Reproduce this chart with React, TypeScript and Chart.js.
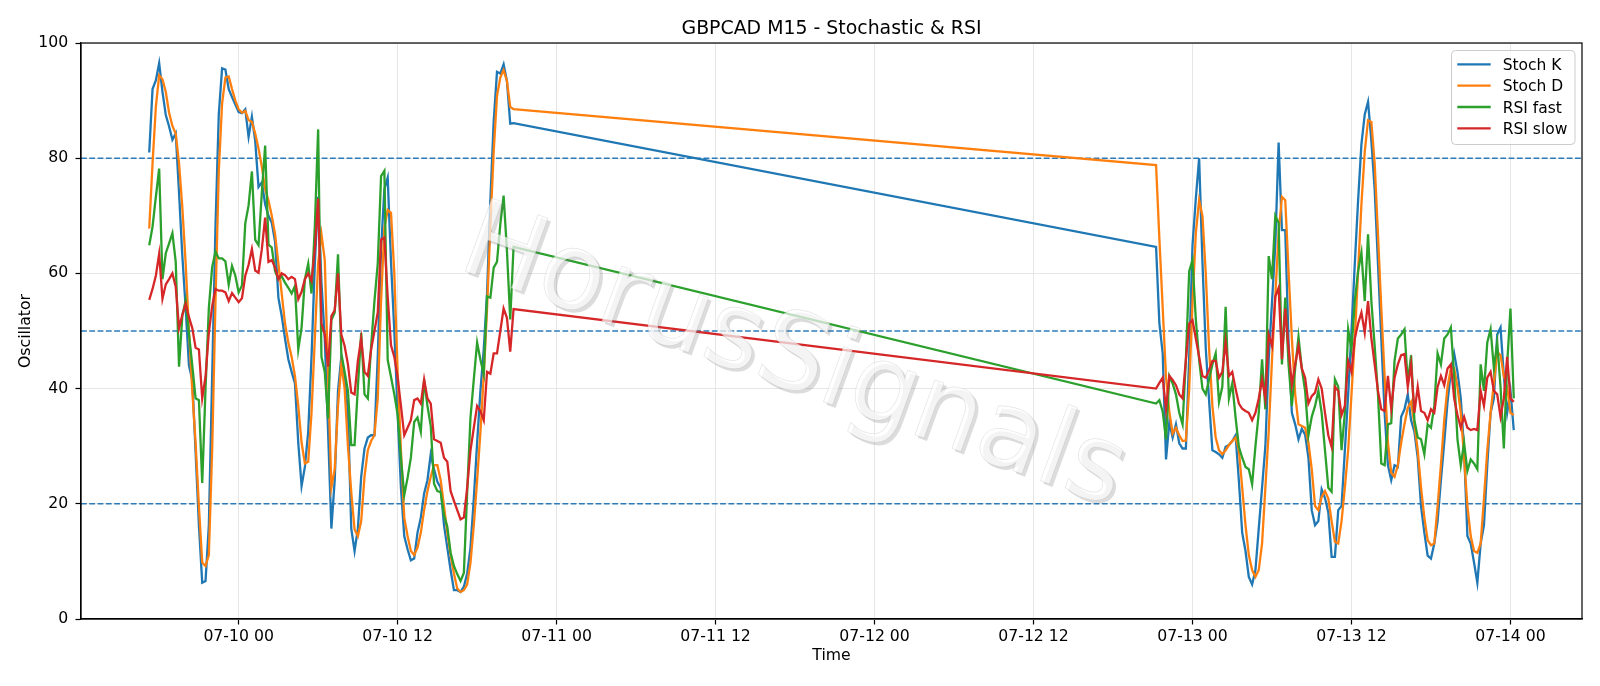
import React, { useEffect, useRef } from 'react';
import { Chart, registerables } from 'chart.js';

Chart.register(...registerables);

// ---- Data -----------------------------------------------------------------
const TITLE = 'GBPCAD M15 - Stochastic & RSI';
const X_LABEL = 'Time';
const Y_LABEL = 'Oscillator';
const WATERMARK = 'HorusSignals';

// Trading sessions (M15 bars): Thursday/Friday session and Sunday/Monday session
const SESSION_STARTS = ['2020-07-09T17:15:00Z', '2020-07-12T21:15:00Z'];
const SESSION_BARS = [111, 109];
const BAR_MINUTES = 15;

const SERIES_LABELS = ['Stoch K', 'Stoch D', 'RSI fast', 'RSI slow'];
const SERIES_COLORS = ['#1f77b4', '#ff7f0e', '#2ca02c', '#d62728'];

const stochK = [
  81, 92, 93.5, 96.5, 91.5, 87.5, 85.5, 83.2, 84.3, 74,
  63, 54, 44, 41.5, 29, 16.3, 6.3, 6.6, 16.3, 42,
  68, 87.6, 95.6, 95.4, 92, 90.6, 89.3, 88, 87.8, 88.5,
  83.7, 87.2, 83, 75, 75.8, 72, 70, 68.8, 65.5, 55.8,
  52.6, 48.7, 45.1, 42.9, 40.9, 30.6, 23.1, 26.4, 32.5, 45.5,
  61.7, 73.3, 58.4, 48.7, 32.5, 15.7, 24.1, 39.6, 45.5, 42.2,
  35.8, 15.7, 11.8, 15.7, 24.7, 29.6, 31.5, 31.9, 31.9, 45.5,
  64.2, 74.6, 76.6, 62, 50, 35.8, 22.8, 14.4, 12.1, 10.2,
  10.5, 15, 17.6, 21.8, 24.1, 28.6, 26, 23.8, 22.8, 16.3,
  12.4, 8.5, 5, 5, 4.7, 5.6, 7.9, 12.4, 20.9, 30.6,
  39.6, 46.8, 56.5, 72.7, 86.3, 95, 94.7, 96.3, 93.4, 86, 86.1,
  // session 2
  64.6, 51.3, 46.1, 27.7, 34.1, 31.5, 33.8, 30.5, 29.6, 29.6,
  45.5, 64.9, 73, 80, 62, 47, 38, 29.3, 29, 28.6,
  28, 29.9, 30.2, 30.9, 31.9, 24, 15, 11.8, 7.3, 6,
  8.5, 15.7, 22.8, 30, 45, 55, 65, 82.7, 67.5, 67.5,
  48, 35.8, 33.8, 31.2, 33, 32, 28, 18.9, 16.3, 17,
  22.5, 21, 18.5, 10.8, 10.8, 18.9, 19.6, 29.3, 39, 50,
  61.7, 72.7, 82.4, 87.6, 89.8, 83, 74.6, 61.7, 48.7, 35.8,
  26.7, 24.1, 26.7, 26.4, 35.1, 36.4, 39, 34.5, 32.5, 28,
  19.6, 15, 11, 10.5, 13.1, 17, 24.1, 30.6, 37.7, 42.9,
  46.1, 42.9, 38.3, 29.3, 14.4, 13.1, 9.8, 6.3, 13.1, 16.3,
  26.7, 35.8, 38.3, 49.4, 50.6, 42.2, 35.8, 39.6, 32.8,
];

const stochD = [
  67.8, 79.1, 88.9, 94.4, 93.7, 91.5, 87.9, 85.6, 84.3, 79.1,
  71.4, 61.7, 50, 39.6, 30.6, 19.6, 9.8, 9.2, 11.1, 29.3,
  55, 77.8, 89.5, 94, 94.2, 92, 90, 88.5, 87.9, 88.2,
  86.6, 86.3, 84.3, 81.7, 78.5, 74.6, 72.7, 70, 66.8, 61.7,
  56.5, 51.3, 48, 45.5, 42.2, 37, 30.6, 27, 27.3, 35.8,
  48.7, 61.7, 66.8, 62.3, 42.2, 22.8, 26, 37, 44.2, 40,
  30, 22, 15.5, 14.4, 17, 24.7, 29.3, 30.9, 31.9, 38.3,
  55.2, 68, 71, 70.5, 60, 43, 29.3, 17.6, 14.4, 11.8,
  11.1, 12.4, 15, 18.9, 22.2, 24.7, 26.7, 26.7, 24.1, 19.6,
  15, 11.1, 7.9, 5.3, 4.7, 5, 6, 9.8, 16.3, 24.1,
  32.5, 42.2, 53.9, 68.1, 81.1, 90.8, 94, 95.3, 93.4, 88.9, 88.5,
  // session 2
  78.8, 66, 54, 42, 36, 32.2, 33.2, 31.9, 30.9, 31,
  40, 55, 67, 72.7, 70, 60, 47, 37, 31.5, 29.3,
  28.6, 29.3, 30.2, 30.9, 31.5, 29.3, 22.8, 16.3, 11.1, 8.5,
  7.3, 8.5, 13.1, 22.8, 32.5, 45, 56, 67, 73.3, 72.7,
  60.4, 48.7, 39, 33.8, 33.5, 33.2, 30.6, 26, 19.6, 18.9,
  21.2, 22.2, 20.9, 17, 13.4, 13.1, 17, 22.8, 29.3, 39,
  48.7, 60.4, 72, 81.1, 86.6, 86.3, 79.1, 66.8, 53.9, 42.2,
  30.6, 25.4, 24.7, 26.7, 30.6, 33.8, 36.7, 37.7, 33.8, 29.3,
  22.8, 17.6, 13.7, 12.8, 13.1, 19.6, 26.7, 34.5, 40.3, 43.5,
  43.5, 40.3, 35.8, 28, 19.6, 14.4, 11.8, 11.5, 13.1, 20.9,
  29.3, 35.8, 40.9, 46.4, 45.8, 42.2, 40.3, 35.8, 35.4,
];

const rsiFast = [
  64.9, 68.1, 73.3, 78.2, 59, 63.5, 65.2, 67, 62, 43.8,
  52.7, 55.3, 49.5, 44, 38.3, 38, 23.6, 40, 54, 61.1,
  63.8, 62.6, 62.6, 62.1, 58, 61.3, 59.6, 56.7, 57.9, 68.7,
  71.8, 77.7, 65.8, 64.9, 74, 82.2, 65, 64.5, 60.4, 59,
  59.5, 58.4, 57.5, 56.5, 57.8, 46.8, 50.6, 59, 61.7, 56.5,
  68.1, 85, 45.5, 42.9, 34.8, 51.9, 53.2, 63.3, 46.1, 42.9,
  39.6, 30.2, 30.2, 40.3, 49.7, 39, 38.3, 47.4, 55.2, 61.7,
  76.9, 77.8, 45, 42, 39, 35.5, 28, 21.5, 24.5, 28,
  34.2, 35, 32.5, 41.5, 37, 33.5, 23.5, 22.2, 22, 18,
  16, 11.5, 9.2, 7.8, 6.6, 8, 22, 35, 41.6, 48,
  45, 42.5, 56, 55.8, 61, 62, 68.5, 73.5, 64, 52, 64.6,
  // session 2
  37.4, 38, 36, 31.2, 42.2, 40.9, 39, 35.8, 33.8, 45,
  60.4, 62.3, 52, 45, 40, 39, 41.6, 44.2, 46.1, 37.7,
  40.3, 54.2, 38.3, 40.9, 35, 29.9, 28, 26.4, 26, 23.4,
  30, 35.8, 45.1, 36.4, 63, 59, 70, 68.8, 44.2, 55.8,
  44.2, 37, 43.5, 49, 43.5, 39.6, 31.9, 35.1, 37, 39.6,
  35.8, 29.3, 22.8, 22.1, 41.6, 40.3, 29.3, 35.8, 50.3, 46.8,
  55.2, 60.4, 63.6, 55.2, 66.8, 55.2, 47.4, 39, 27, 26.7,
  33.8, 34, 44.8, 48.7, 49.4, 50.3, 41, 45.8, 34.5, 31.5,
  31.2, 28.6, 33.8, 33.2, 37, 46.1, 44.2, 48.7, 49.4, 50.6,
  42.2, 31.2, 26.7, 30.6, 25.7, 27.7, 27, 26, 44.2, 39.6,
  48, 50.3, 43.5, 48, 40.3, 29.6, 44.2, 53.9, 38.3,
];

const rsiSlow = [
  55.4, 57.3, 59.6, 63.4, 55.6, 58.1, 59, 60, 57.7, 50.5,
  52.8, 54.7, 52.4, 50.5, 47.1, 46.8, 38.3, 42.1, 49.7, 54.3,
  57.3, 57, 57, 56.7, 55.2, 56.6, 55.8, 55, 55.7, 59.6,
  61.5, 64.2, 60.5, 60.1, 64.2, 69.7, 62, 62.3, 61, 59,
  60, 59.7, 59, 59.4, 59, 55.5, 56.8, 59, 60, 58.7,
  64.2, 73, 51.3, 49.4, 43.8, 52.6, 53.6, 60, 49.4, 47.4,
  44.2, 39.3, 39, 44.8, 48.7, 42.9, 42.2, 46.8, 50, 53.2,
  65.9, 66.2, 56, 47.5, 45.5, 42, 37, 31.9, 33.2, 34.5,
  38, 38.3, 37.4, 41.6, 38.3, 37.4, 31.2, 30.9, 30.6, 28,
  27.3, 22.2, 20.5, 18.9, 17.3, 17.6, 22.8, 29.3, 33.2, 37,
  36.1, 34.5, 42.9, 42.6, 46.1, 46.1, 50, 53.9, 52.3, 46.4, 53.8,
  // session 2
  40, 41, 41.9, 36.4, 42.2, 41.5, 40.6, 39, 38.3, 45,
  51.3, 51.9, 48.7, 45.5, 42.2, 41.9, 43.2, 44.8, 44.8, 41.9,
  42.9, 48.1, 42.2, 42.9, 40, 37.4, 36.5, 36.1, 35.8, 34.5,
  35.8, 38.3, 41.6, 38.3, 49.4, 47.4, 56, 57.5, 45.1, 53.9,
  47, 40.6, 44.2, 47.4, 43.5, 41.9, 37.4, 38.7, 39.3, 41.6,
  40, 35.8, 31.9, 29.9, 40.3, 39.6, 35.4, 37, 44.8, 42.9,
  48.7, 51.3, 53.2, 49.7, 55.2, 48.7, 44.2, 39.6, 36.4, 36.1,
  42.2, 36.5, 41.9, 44.2, 45.8, 46, 40.3, 44.2, 35.8, 40.3,
  36.1, 35.8, 34.5, 36.4, 35.8, 40.3, 42.2, 40.6, 43.5, 44.2,
  38.3, 35.4, 33.2, 35.1, 33.2, 32.8, 33, 32.8, 39.6, 37,
  41.9, 42.9, 39.6, 39, 35.1, 38.3, 45.5, 38.3, 37.7,
];

const LEVELS = [80, 50, 20];
const Y_MIN = 0;
const Y_MAX = 100;
const Y_STEP = 20;
const X_TICK_ANCHOR = '2020-07-10T00:00:00Z';
const X_TICK_STEP_HOURS = 12;

// ---- Helpers --------------------------------------------------------------
const FONT = '"DejaVu Sans", "Liberation Sans", sans-serif';
const HOUR = 3600000;

function buildTimes(): number[] {
  const out: number[] = [];
  SESSION_STARTS.forEach((s, k) => {
    const t0 = Date.parse(s);
    for (let i = 0; i < SESSION_BARS[k]; i++) out.push(t0 + i * BAR_MINUTES * 60000);
  });
  return out;
}

function pad2(n: number) {
  return n < 10 ? '0' + n : '' + n;
}

function fmtTime(v: number) {
  const d = new Date(v);
  return `${pad2(d.getUTCMonth() + 1)}-${pad2(d.getUTCDate())} ${pad2(d.getUTCHours())}`;
}

export default function App() {
  const ref = useRef<HTMLCanvasElement | null>(null);

  useEffect(() => {
    const canvas = ref.current;
    if (!canvas) return;
    const times = buildTimes();
    const series = [stochK, stochD, rsiFast, rsiSlow];
    const t0 = times[0];
    const t1 = times[times.length - 1];
    const margin = (t1 - t0) * 0.05;
    const xMin = t0 - margin;
    const xMax = t1 + margin;
    const anchor = Date.parse(X_TICK_ANCHOR);
    const step = X_TICK_STEP_HOURS * HOUR;
    const xTicks: number[] = [];
    for (let v = anchor + Math.ceil((xMin - anchor) / step) * step; v <= xMax; v += step) xTicks.push(v);

    const datasets = series.map((vals, k) => ({
      label: SERIES_LABELS[k],
      data: vals.map((y, i) => ({ x: times[i], y })),
      borderColor: SERIES_COLORS[k],
      backgroundColor: SERIES_COLORS[k],
      borderWidth: 2.3,
      pointRadius: 0,
      tension: 0,
      fill: false,
      order: series.length - k,
    }));

    const bgPlugin = {
      id: 'bg',
      beforeDraw(chart: any) {
        const c = chart.ctx;
        c.save();
        c.fillStyle = '#ffffff';
        c.fillRect(0, 0, chart.width, chart.height);
        c.restore();
      },
    };

    const levelPlugin = {
      id: 'levels',
      beforeDatasetsDraw(chart: any) {
        const c = chart.ctx;
        const a = chart.chartArea;
        const ys = chart.scales.y;
        c.save();
        c.strokeStyle = '#2b7bba';
        c.lineWidth = 1.5;
        c.setLineDash([5.8, 2.5]);
        LEVELS.forEach((lv) => {
          const py = ys.getPixelForValue(lv);
          c.beginPath();
          c.moveTo(a.left, py);
          c.lineTo(a.right, py);
          c.stroke();
        });
        c.restore();
      },
    };

    const overlayPlugin = {
      id: 'overlay',
      afterDraw(chart: any) {
        const c = chart.ctx;
        const a = chart.chartArea;
        // watermark
        const ang = (20 * Math.PI) / 180;
        const cx = 793;
        const cy = 361;
        c.save();
        c.beginPath();
        c.rect(a.left, a.top, a.right - a.left, a.bottom - a.top);
        c.clip();
        c.font = `107px ${FONT}`;
        c.textAlign = 'center';
        c.textBaseline = 'middle';
        c.save();
        c.translate(cx + 3, cy + 3);
        c.rotate(ang);
        c.fillStyle = 'rgba(110,110,110,0.24)';
        c.fillText(WATERMARK, 0, 0);
        c.restore();
        c.save();
        c.translate(cx, cy);
        c.rotate(ang);
        c.fillStyle = 'rgba(255,255,255,0.68)';
        c.fillText(WATERMARK, 0, 0);
        c.strokeStyle = 'rgba(170,170,170,0.3)';
        c.lineWidth = 0.7;
        c.strokeText(WATERMARK, 0, 0);
        c.restore();
        c.restore();

        // spines
        c.save();
        c.strokeStyle = '#000';
        c.lineWidth = 1.2;
        c.strokeRect(a.left, a.top, a.right - a.left, a.bottom - a.top);
        c.restore();

        // title
        c.save();
        c.fillStyle = '#000';
        c.font = `18.9px ${FONT}`;
        c.textAlign = 'center';
        c.textBaseline = 'alphabetic';
        c.fillText(TITLE, (a.left + a.right) / 2, 33.6);
        c.restore();

        // legend
        const bx = 1451.5;
        const by = 50.5;
        const bw = 123.5;
        const bh = 94;
        c.save();
        c.beginPath();
        const r = 4;
        c.moveTo(bx + r, by);
        c.lineTo(bx + bw - r, by);
        c.arcTo(bx + bw, by, bx + bw, by + r, r);
        c.lineTo(bx + bw, by + bh - r);
        c.arcTo(bx + bw, by + bh, bx + bw - r, by + bh, r);
        c.lineTo(bx + r, by + bh);
        c.arcTo(bx, by + bh, bx, by + bh - r, r);
        c.lineTo(bx, by + r);
        c.arcTo(bx, by, bx + r, by, r);
        c.closePath();
        c.fillStyle = 'rgba(255,255,255,0.8)';
        c.fill();
        c.strokeStyle = '#cccccc';
        c.lineWidth = 1;
        c.stroke();
        c.font = `15.5px ${FONT}`;
        c.textAlign = 'left';
        c.textBaseline = 'alphabetic';
        SERIES_LABELS.forEach((lab, k) => {
          const ry = 64.3 + k * 21.35;
          c.strokeStyle = SERIES_COLORS[k];
          c.lineWidth = 2.3;
          c.beginPath();
          c.moveTo(1457.3, ry);
          c.lineTo(1490.7, ry);
          c.stroke();
          c.fillStyle = '#000';
          c.fillText(lab, 1502.7, ry + 5.7);
        });
        c.restore();
      },
    };

    const chart = new Chart(canvas, {
      type: 'line',
      data: { datasets: datasets as any },
      plugins: [bgPlugin, levelPlugin, overlayPlugin],
      options: {
        responsive: false,
        animation: false,
        devicePixelRatio: 1,
        normalized: true,
        layout: { padding: { top: 43, right: 18, left: 0, bottom: 0 } },
        plugins: {
          legend: { display: false },
          title: { display: false },
          tooltip: { enabled: false },
        },
        scales: {
          x: {
            type: 'linear',
            min: xMin,
            max: xMax,
            afterBuildTicks: (s: any) => {
              s.ticks = xTicks.map((v) => ({ value: v }));
            },
            afterFit: (s: any) => {
              s.height = 67;
            },
            ticks: {
              autoSkip: false,
              maxRotation: 0,
              minRotation: 0,
              padding: 3,
              color: '#000',
              font: { family: FONT, size: 15.7 },
              callback: (v: any) => fmtTime(Number(v)),
            },
            grid: {
              color: '#e6e6e6',
              lineWidth: 1,
              tickColor: '#000',
              tickLength: 5.5,
              tickWidth: 1.2,
            },
            border: { color: '#000', width: 1.2 },
            title: {
              display: true,
              text: X_LABEL,
              color: '#000',
              font: { family: FONT, size: 15.7 },
              padding: { top: 0, bottom: 20.6 },
            },
          },
          y: {
            min: Y_MIN,
            max: Y_MAX,
            afterFit: (s: any) => {
              s.width = 81;
            },
            ticks: {
              stepSize: Y_STEP,
              padding: 7.2,
              color: '#000',
              font: { family: FONT, size: 15.7 },
            },
            grid: {
              color: '#e6e6e6',
              lineWidth: 1,
              tickColor: '#000',
              tickLength: 5.5,
              tickWidth: 1.2,
            },
            border: { color: '#000', width: 1.2 },
            title: {
              display: true,
              text: Y_LABEL,
              color: '#000',
              font: { family: FONT, size: 15.7 },
              padding: { top: 16.1, bottom: 0 },
            },
          },
        },
      } as any,
    });

    return () => chart.destroy();
  }, []);

  return (
    <div style={{ position: 'absolute', left: 0, top: 0, width: 1600, height: 686, background: '#fff' }}>
      <canvas ref={ref} width={1600} height={686} style={{ display: 'block', width: 1600, height: 686 }} />
    </div>
  );
}
